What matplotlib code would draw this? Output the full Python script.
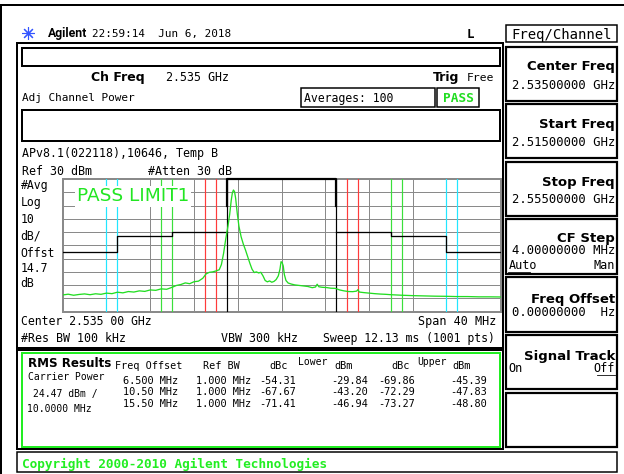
import numpy as np
import matplotlib
matplotlib.use('Agg')
import matplotlib.pyplot as plt
import matplotlib.font_manager as fm
from matplotlib.patches import Rectangle

# ---- data ----
freq_mhz = [-20.0, -19.5, -19.0, -18.5, -18.0, -17.5, -17.0, -16.5, -16.0, -15.5,
            -15.0, -14.5, -14.0, -13.5, -13.0, -12.5, -12.0, -11.5, -11.0, -10.5,
            -10.0, -9.6, -9.2, -8.8, -8.4, -8.0, -7.6, -7.2, -6.9, -6.6,
            -6.3, -6.0, -5.7, -5.5, -5.3, -5.1, -4.9, -4.75, -4.6, -4.5,
            -4.4, -4.3, -4.2, -4.05, -3.9, -3.7, -3.5, -3.3, -3.1, -2.9,
            -2.7, -2.5, -2.3, -2.1, -1.9, -1.7, -1.5, -1.3, -1.1, -0.9,
            -0.7, -0.5, -0.3, -0.15, -0.05, 0.05, 0.15, 0.25, 0.4, 0.6,
            0.9, 1.2, 1.6, 2.0, 2.4, 2.8, 3.1, 3.25, 3.4, 3.7,
            4.1, 4.5, 4.9, 5.3, 5.7, 6.1, 6.5, 6.85, 6.97, 7.1,
            7.5, 8.0, 8.5, 9.0, 9.5, 10.0, 11.0, 12.0, 13.0, 14.0,
            15.0, 16.0, 17.0, 18.0, 19.0, 20.0]
level_dbm = [-57.4, -56.8, -57.6, -57.0, -56.6, -57.2, -56.5, -56.9, -56.0, -56.4,
             -55.3, -55.8, -54.8, -55.2, -54.3, -54.7, -53.6, -53.9, -52.8, -53.1,
             -51.6, -50.2, -49.5, -48.3, -48.9, -47.4, -47.0, -44.8, -41.5, -40.3,
             -40.0, -39.3, -38.4, -34.5, -26.0, -15.0, -5.5, 3.0, 14.0, 19.5,
             21.7, 20.5, 15.5, 4.0, -5.5, -13.5, -19.0, -23.5, -28.5, -33.5,
             -38.0, -40.5, -40.0, -40.8, -40.3, -43.0, -46.5, -47.5, -46.8, -47.8,
             -47.2, -45.8, -43.0, -38.0, -32.3, -33.0, -35.5, -42.0, -46.5, -48.4,
             -49.2, -49.8, -50.2, -50.6, -51.0, -51.9, -51.4, -49.3, -51.2, -51.6,
             -51.8, -52.3, -52.4, -53.6, -54.3, -54.8, -54.9, -54.5, -53.4, -55.2,
             -55.6, -56.0, -56.4, -56.7, -56.9, -57.2, -57.6, -57.9, -58.1, -58.3,
             -58.4, -58.6, -58.6, -58.8, -58.8, -58.9]

# limit line (lower side, mirrored for upper side)
limit_f = [-20, -15, -15, -10, -10, -5]
limit_db = [-25.2, -25.2, -13.0, -13.0, -10.2, -10.2]

# measurement bands: offset centre, ref bw
offsets = [6.5, 10.5, 15.5]
band_colors = ['#ff3b3b', '#3be03b', '#22e6ff']
chan_bw = 10.0

row_offset = ['6.500 MHz', '10.50 MHz', '15.50 MHz']
row_refbw = ['1.000 MHz', '1.000 MHz', '1.000 MHz']
row_low_dbc = ['-54.31', '-67.67', '-71.41']
row_low_dbm = ['-29.84', '-43.20', '-46.94']
row_up_dbc = ['-69.86', '-72.29', '-73.27']
row_up_dbm = ['-45.39', '-47.83', '-48.80']

# ---- fonts ----
have = {f.name for f in fm.fontManager.ttflist}
MONO = 'DejaVu Sans Mono'
SANS = 'DejaVu Sans'
NARROW = 'Liberation Sans Narrow' if 'Liberation Sans Narrow' in have else 'DejaVu Sans'
LOGO = 'Roboto' if 'Roboto' in have else 'DejaVu Sans'

fig = plt.figure(figsize=(6.24, 4.74), dpi=100)
bg = fig.add_axes([0, 0, 1, 1])
bg.set_xlim(0, 624)
bg.set_ylim(474, 0)
bg.axis('off')

PX = 0.72  # points per pixel


def t(x, y, s, size=8.3, family=MONO, weight='normal', ha='left', color='black'):
    # y is the visual centre of capitals, in pixels from the top
    yb = y + 0.36 * size / PX
    return bg.text(x, yb, s, fontsize=size, family=family, weight=weight,
                   ha=ha, va='baseline', color=color)


def box(x0, y0, x1, y1, lw=2, ec='black', fc='none'):
    bg.add_patch(Rectangle((x0, y0), x1 - x0, y1 - y0, lw=lw * PX, ec=ec, fc=fc))


# outer screen frame
bg.plot([0, 624], [5, 5], color='black', lw=2 * PX)
bg.plot([1, 1], [5, 474], color='black', lw=2 * PX)

# header
bg.plot([28], [33], marker=(8, 2, 0), ms=9, color='#3355ff', mew=0.8)
t(48, 33, 'Agilent', size=8.8 if LOGO == 'Roboto' else 7.0, family=LOGO, weight='bold')
t(91.5, 33, '22:59:14  Jun 6, 2018', size=7.9)
t(466.7, 33, 'L', size=9, weight='bold')

# right-hand softkeys
box(505.7, 25, 616.7, 42.3, lw=1.5)
t(561.5, 34, 'Freq/Channel', size=10, ha='center')
keys = [(46.7, 101.0), (104.3, 158.3), (161.7, 216.0), (219.0, 274.3),
        (277.3, 331.7), (335.0, 389.3), (392.7, 447.3)]
for y0, y1 in keys:
    box(505.7, y0, 616.7, y1, lw=2.2)
t(615, 65, 'Center Freq', size=9.5, family=SANS, weight='bold', ha='right')
t(615, 85, '2.53500000 GHz', size=8.8, ha='right')
t(615, 123.3, 'Start Freq', size=9.5, family=SANS, weight='bold', ha='right')
t(615, 141.7, '2.51500000 GHz', size=8.8, ha='right')
t(615, 181.7, 'Stop Freq', size=9.5, family=SANS, weight='bold', ha='right')
t(615, 199, '2.55500000 GHz', size=8.8, ha='right')
t(615, 237, 'CF Step', size=9.5, family=SANS, weight='bold', ha='right')
t(615, 250, '4.00000000 MHz', size=8.8, ha='right')
t(508.3, 265, 'Auto', size=8.5)
bg.plot([508.3, 530], [271.5, 271.5], color='black', lw=0.8 * PX)
t(615, 265, 'Man', size=8.5, ha='right')
t(615, 298, 'Freq Offset', size=9.5, family=SANS, weight='bold', ha='right')
t(615, 312, '0.00000000  Hz', size=8.8, ha='right')
t(615, 355, 'Signal Track', size=9.5, family=SANS, weight='bold', ha='right')
t(508.3, 368, 'On', size=8.5)
t(615, 368, 'Off', size=8.5, ha='right')
bg.plot([597, 615], [374.5, 374.5], color='black', lw=0.8 * PX)

# main measurement panel
box(17, 43.3, 503, 348, lw=2)
box(22, 48.3, 500, 65.7, lw=2)
t(90.7, 76.7, 'Ch Freq', size=9, family=SANS, weight='bold')
t(165.7, 76.7, '2.535 GHz', size=8.4)
t(432.7, 76.7, 'Trig', size=9, family=SANS, weight='bold')
t(466.7, 76.7, 'Free', size=8.2)
t(21.7, 97.3, 'Adj Channel Power', size=7.9)
box(301, 88, 435, 107, lw=1.5)
t(304, 97.5, 'Averages: 100', size=8.3)
box(437.3, 88, 479.3, 107, lw=1.5)
t(458.3, 97.5, 'PASS', size=9.3, weight='bold', ha='center', color='#22dd22')
box(22, 109.5, 500, 141, lw=2)
t(21.7, 152.3, 'APv8.1(022118),10646, Temp B', size=8.4)
t(21.7, 170.7, 'Ref 30 dBm', size=8.4)
t(148, 170.7, '#Atten 30 dB', size=8.4)
for yy, s in zip([185, 202.3, 219, 235, 252.7, 268.3, 283.3],
                 ['#Avg', 'Log', '10', 'dB/', 'Offst', '14.7', 'dB']):
    t(20.7, yy, s, size=8.3)
t(20.7, 320.7, 'Center 2.535 00 GHz', size=8.3)
t(496, 320.7, 'Span 40 MHz', size=8.5, ha='right')
t(20.7, 338.3, '#Res BW 100 kHz', size=8.4)
t(221, 338.3, 'VBW 300 kHz', size=8.4)
t(495, 338.3, 'Sweep 12.13 ms (1001 pts)', size=8.3, ha='right')

# results panel
box(17, 350, 503, 449, lw=2)
box(21.5, 353, 500, 446.5, lw=2, ec='#22ee22')
t(28, 363, 'RMS Results', size=8.6, family=SANS, weight='bold')
t(115, 365, 'Freq Offset', size=7.3)
t(203, 365, 'Ref BW', size=7.3)
t(269, 365, 'dBc', size=7.3)
t(298, 361.7, 'Lower', size=7.0)
t(334, 365, 'dBm', size=7.3)
t(391, 365, 'dBc', size=7.3)
t(417, 361.7, 'Upper', size=7.0)
t(452, 365, 'dBm', size=7.3)
t(28, 376.7, 'Carrier Power', size=7.0)
t(33, 393, '24.47 dBm /', size=7.0)
t(27, 409, '10.0000 MHz', size=7.0)
for i, yy in enumerate([380, 391.5, 403.5]):
    t(178, yy, row_offset[i], size=7.4, ha='right')
    t(251, yy, row_refbw[i], size=7.4, ha='right')
    t(296, yy, row_low_dbc[i], size=7.4, ha='right')
    t(368, yy, row_low_dbm[i], size=7.4, ha='right')
    t(415, yy, row_up_dbc[i], size=7.4, ha='right')
    t(487, yy, row_up_dbm[i], size=7.4, ha='right')

box(17, 452, 617, 472, lw=1.5)
t(21.7, 463.3, 'Copyright 2000-2010 Agilent Technologies', size=9.2,
  weight='bold', color='#22ee22')

# ---- graticule ----
gl, gr, gt, gb = 62.7, 500.5, 179.0, 311.7
ax = fig.add_axes([gl / 624, (474 - gb) / 474, (gr - gl) / 624, (gb - gt) / 474])
ax.set_zorder(2)
ax.set_xlim(-20, 20)
ax.set_ylim(-70, 30)
ax.set_xticks(np.arange(-20, 21, 4))
ax.set_yticks(np.arange(-70, 31, 10))
ax.grid(True, color='#8a8a8a', lw=1.0 * PX)
ax.tick_params(length=0, labelbottom=False, labelleft=False)
for sp in ax.spines.values():
    sp.set_color('#8a8a8a')
    sp.set_linewidth(2 * PX)

for off, c in zip(offsets, band_colors):
    for sgn in (-1, 1):
        for edge in (off - 0.5, off + 0.5):
            ax.axvline(sgn * edge, color=c, lw=1.2 * PX, zorder=3)
for sgn in (-1, 1):
    ax.axvline(sgn * chan_bw / 2, color='black', lw=1.2 * PX, zorder=3)

lf = np.array(limit_f, dtype=float)
ld = np.array(limit_db)
ax.plot(lf, ld, color='black', lw=1.3 * PX, zorder=4)
ax.plot(-lf, ld, color='black', lw=1.3 * PX, zorder=4)
ax.plot([-5, -5, 5, 5], [10, 30, 30, 10], color='black', lw=2.2 * PX,
        zorder=4, clip_on=False)

ax.plot(freq_mhz, level_dbm, color='#22dd22', lw=1.3 * PX, zorder=5)

pass_size = 16.3 if NARROW != 'DejaVu Sans' else 13.3
ax.text(-18.7, 13.4, 'PASS LIMIT1', fontsize=pass_size, family=NARROW,
        color='#22e622', va='baseline', zorder=6,
        bbox=dict(fc='white', ec='none', pad=1))

fig.savefig('out.png', dpi=100)
